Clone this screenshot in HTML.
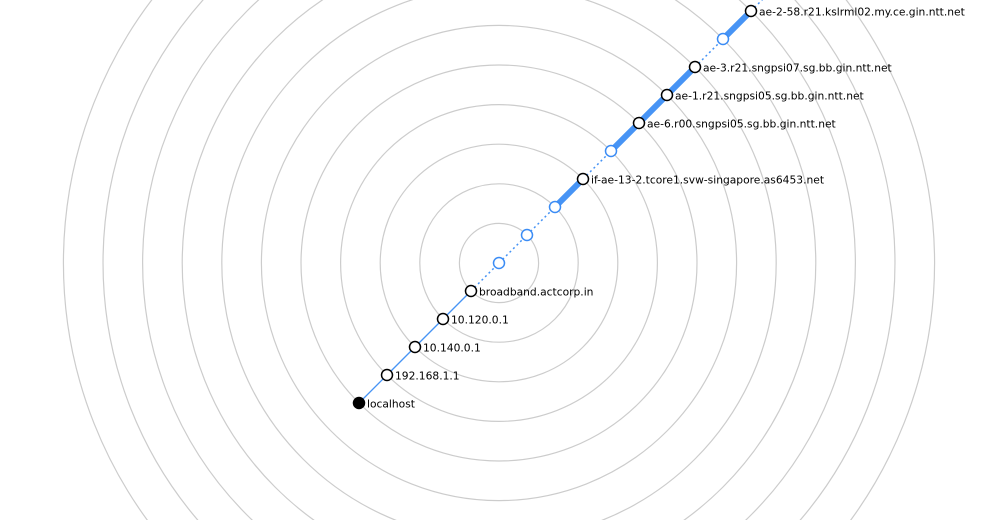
<!DOCTYPE html>
<html><head><meta charset="utf-8"><style>
html,body{margin:0;padding:0;background:#fff;width:982px;height:520px;overflow:hidden;}
svg{display:block;overflow:hidden;}
text{font-family:"DejaVu Sans","Liberation Sans",sans-serif;font-size:10.7px;fill:#000;}
</style></head><body>
<svg id="chart" width="982" height="520" viewBox="0 0 982 520"></svg>
<script>
const hopLabels=["localhost","192.168.1.1","10.140.0.1","10.120.0.1","broadband.actcorp.in","","","","if-ae-13-2.tcore1.svw-singapore.as6453.net","","ae-6.r00.sngpsi05.sg.bb.gin.ntt.net","ae-1.r21.sngpsi05.sg.bb.gin.ntt.net","ae-3.r21.sngpsi07.sg.bb.gin.ntt.net","","ae-2-58.r21.kslrml02.my.ce.gin.ntt.net"];
const hopTypes=["origin","ok","ok","ok","ok","timeout","timeout","timeout","ok","timeout","ok","ok","ok","timeout","ok"];
const linkStyles=["thin","thin","thin","thin","dot","dot","dot","thick","dot","thick","thick","thick","dot","thick","dot"];
const ringCount=11;
const NS="http://www.w3.org/2000/svg";
const svg=document.getElementById('chart');
const cx=499,cy=263,step=28;
function px(i){return cx+(i-5)*step;}
function py(i){return cy-(i-5)*step;}
const rstep=step*Math.SQRT2;
function mk(t,a){const e=document.createElementNS(NS,t);for(const k in a)e.setAttribute(k,a[k]);svg.appendChild(e);return e;}
for(let i=1;i<=ringCount;i++){
 const c=mk('circle',{cx:cx,cy:cy,r:i*rstep,fill:'none',stroke:'#cccccc','stroke-width':1.2});
 
 
}
for(let i=0;i<linkStyles.length;i++){
 const s=linkStyles[i];
 const a={x1:px(i),y1:py(i),x2:px(i+1),y2:py(i+1),stroke:'#4794f5'};
 if(s==='thin')a['stroke-width']=1.3;
 if(s==='thick')a['stroke-width']=6;
 if(s==='dot'){a['stroke-width']=1.5;a['stroke-dasharray']='2,3';}
 const l=mk('line',a);
 
 
}
for(let i=0;i<hopTypes.length;i++){
 const t=hopTypes[i];
 const c=mk('circle',{cx:px(i),cy:py(i),r:5.5,fill:t==='origin'?'#000':'#fff',stroke:t==='timeout'?'#3b8cf5':'#000','stroke-width':1.5});
 
 
 if(hopLabels[i]){
  const tx=mk('text',{x:px(i)+8,y:py(i)+4.5});
  tx.textContent=hopLabels[i];
  
  
 }
}
</script>
</body></html>
